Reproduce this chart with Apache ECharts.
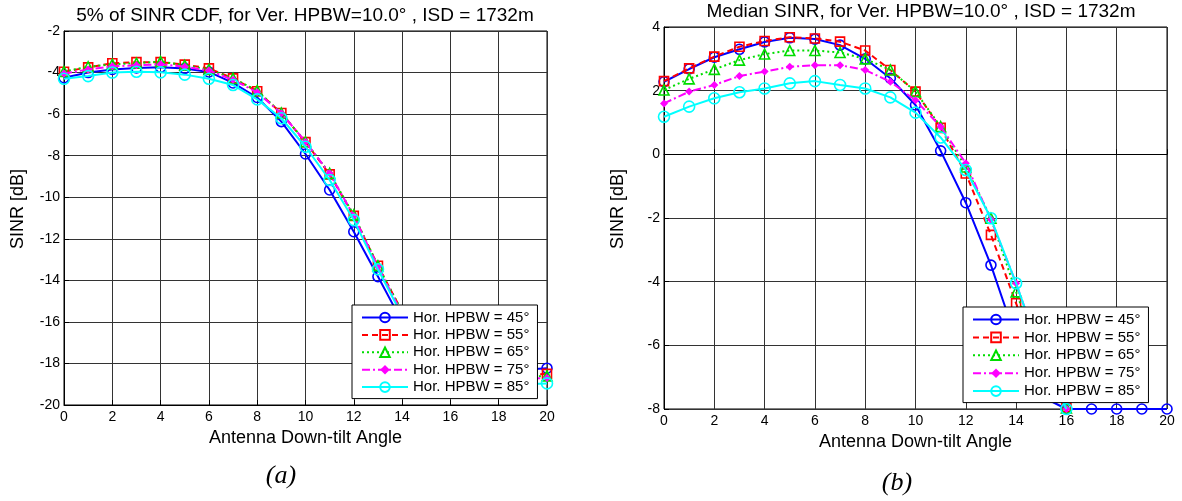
<!DOCTYPE html>
<html>
<head>
<meta charset="utf-8">
<script src="https://cdn.jsdelivr.net/npm/echarts@6/dist/echarts.min.js"></script>
<style>
html,body{margin:0;padding:0;background:#fff;}
#mychart{width:1182px;height:501px;}
</style>
</head>
<body>
<div id="mychart"></div>
<script>
// down-tilt angles 0..20
var tilt = [0,1,2,3,4,5,6,7,8,9,10,11,12,13,14,15,16,17,18,19,20];
var names = ['Hor. HPBW = 45°','Hor. HPBW = 55°','Hor. HPBW = 65°','Hor. HPBW = 75°','Hor. HPBW = 85°'];

// (a) 5% of SINR CDF
var cdf45 = [-4.25,-4.0,-3.85,-3.78,-3.75,-3.8,-3.97,-4.5,-5.2,-6.36,-7.92,-9.65,-11.66,-13.82,-16.0,-17.5,-18.2,-18.4,-18.4,-18.3,-18.23];
var cdf55 = [-3.96,-3.75,-3.55,-3.5,-3.5,-3.62,-3.8,-4.28,-4.9,-5.95,-7.35,-8.9,-10.9,-13.3,-15.5,-17.2,-18.1,-18.5,-18.6,-18.55,-18.5];
var cdf65 = [-3.95,-3.72,-3.6,-3.55,-3.47,-3.65,-3.85,-4.28,-4.87,-5.95,-7.33,-8.85,-10.85,-13.3,-15.5,-17.2,-18.2,-18.6,-18.7,-18.65,-18.6];
var cdf75 = [-4.05,-3.85,-3.7,-3.65,-3.6,-3.72,-3.9,-4.35,-4.95,-5.96,-7.33,-8.85,-10.9,-13.35,-15.6,-17.3,-18.3,-18.7,-18.8,-18.75,-18.7];
var cdf85 = [-4.3,-4.17,-4.0,-3.96,-3.99,-4.1,-4.3,-4.6,-5.29,-6.2,-7.57,-9.17,-11.1,-13.47,-15.7,-17.4,-18.4,-18.8,-19.0,-19.0,-18.96];

// (b) median SINR
var med45 = [2.28,2.68,3.05,3.3,3.53,3.66,3.62,3.43,3.0,2.39,1.55,0.11,-1.52,-3.48,-5.8,-7.6,-8,-8,-8,-8,-8];
var med55 = [2.3,2.7,3.07,3.38,3.56,3.68,3.64,3.54,3.26,2.65,1.97,0.83,-0.6,-2.53,-4.68,-6.8,-7.95];
var med65 = [2.02,2.37,2.67,2.96,3.15,3.26,3.26,3.2,3.0,2.65,1.97,0.87,-0.4,-2.01,-4.32,-6.5,-7.97];
var med75 = [1.6,1.97,2.18,2.46,2.6,2.75,2.8,2.8,2.65,2.28,1.7,0.87,-0.28,-2.05,-4.05,-6.3,-8];
var med85 = [1.18,1.5,1.76,1.95,2.07,2.23,2.3,2.18,2.07,1.79,1.31,0.53,-0.49,-2.01,-4.05,-6.3,-8];

var yTicksA = [-20,-18,-16,-14,-12,-10,-8,-6,-4,-2];
var yTicksB = [-8,-6,-4,-2,0,2,4];

var colors = ['#0000ff','#ff0000','#00dd00','#ff00ff','#00ffff'];
var lineTypes = ['solid',[6,4],[2,3],[8,3,2,3],'solid'];
var symbols = ['circle','rect','triangle','diamond','circle'];
var symSizes = [10,9,10,8,11];
var font = 'Liberation Sans';

function pairs(xs, ys){
	var out=[];
	for(var i=0;i<ys.length;i++){ out.push([xs[i], ys[i]]); }
	return out;
}

function mkSeries(idx, data, k){
	var filled = symbols[k]==='diamond';
	return {
		name:names[k],
		type:'line',
		xAxisIndex:idx,
		yAxisIndex:idx,
		data:pairs(tilt,data),
		symbol:symbols[k],
		symbolSize:symSizes[k],
		showAllSymbol:true,
		animation:false,
		lineStyle:{color:colors[k],width:2,type:lineTypes[k]},
		itemStyle:{
			color:filled ? colors[k] : 'rgba(255,255,255,0)',
			borderColor:colors[k],
			borderWidth:filled ? 0 : 1.6
		},
		emphasis:{disabled:true},
		z:2+k
	};
}

function mkX(idx, gap){
	return {
		gridIndex:idx, type:'value', min:0, max:20, interval:2,
		name:'Antenna Down-tilt Angle', nameLocation:'middle', nameGap:gap,
		nameTextStyle:{color:'#000',fontSize:18,fontFamily:font},
		axisLine:{lineStyle:{color:'#000',width:1}},
		axisTick:{show:true,inside:true,length:5,lineStyle:{color:'#000'}},
		axisLabel:{color:'#000',fontSize:14,fontFamily:font,margin:5},
		splitLine:{show:true,lineStyle:{color:'#333',width:1}}
	};
}
function mkY(idx, ticks){
	return {
		gridIndex:idx, type:'value', min:ticks[0], max:ticks[ticks.length-1], interval:2,
		axisLine:{show:true,lineStyle:{color:'#000',width:1}},
		axisTick:{show:true,inside:true,length:5,lineStyle:{color:'#000'}},
		axisLabel:{color:'#000',fontSize:14,fontFamily:font,margin:4},
		splitLine:{show:true,lineStyle:{color:'#333',width:1}}
	};
}
function mkLegend(left, top, gap){
	return {
		orient:'vertical', left:left, top:top,
		data:names,
		backgroundColor:'#fff', borderColor:'#000', borderWidth:1,
		padding:[5,8,4,9], itemWidth:46, itemHeight:12, itemGap:gap,
		textStyle:{color:'#000',fontSize:15,lineHeight:15,fontFamily:font},
		selectedMode:false,
		z:10
	};
}
function txt(x, y, s, size, extra){
	var st = {text:s,align:'center',verticalAlign:'middle',fontSize:size,fontFamily:font,fill:'#000'};
	for(var k in extra){ st[k]=extra[k]; }
	return {type:'text',x:x,y:y,style:st};
}

var myChart = echarts.init(document.getElementById('mychart'), null, {renderer:'canvas'});
var yNameA = txt(18,209,'SINR [dB]',18,{});
yNameA.rotation = Math.PI/2;
var yNameB = txt(618,209,'SINR [dB]',18,{});
yNameB.rotation = Math.PI/2;

option = {
	backgroundColor:'#fff',
	animation:false,
	grid:[
		{left:64,top:31,width:483,height:374,show:true,borderColor:'#000',borderWidth:1,backgroundColor:'#fff'},
		{left:664,top:27,width:503,height:382,show:true,borderColor:'#000',borderWidth:1,backgroundColor:'#fff'}
	],
	xAxis:[mkX(0,24),mkX(1,22)],
	yAxis:[mkY(0,yTicksA),mkY(1,yTicksB)],
	legend:[mkLegend(352,305,2.4),mkLegend(963,307,2.9)],
	graphic:[
		txt(305,16,'5% of SINR CDF, for Ver. HPBW=10.0° , ISD = 1732m',19,{}),
		txt(921,12,'Median SINR, for Ver. HPBW=10.0° , ISD = 1732m',19,{}),
		yNameA,
		yNameB,
		txt(281,476,'(a)',26,{fontStyle:'italic',fontFamily:'Liberation Serif'}),
		txt(897,483,'(b)',26,{fontStyle:'italic',fontFamily:'Liberation Serif'})
	],
	series:[
		mkSeries(0,cdf45,0),mkSeries(0,cdf55,1),mkSeries(0,cdf65,2),mkSeries(0,cdf75,3),mkSeries(0,cdf85,4),
		mkSeries(1,med45,0),mkSeries(1,med55,1),mkSeries(1,med65,2),mkSeries(1,med75,3),mkSeries(1,med85,4)
	]
};
if (option && typeof option === "object") {
	myChart.setOption(option, true);
}
</script>
</body>
</html>
